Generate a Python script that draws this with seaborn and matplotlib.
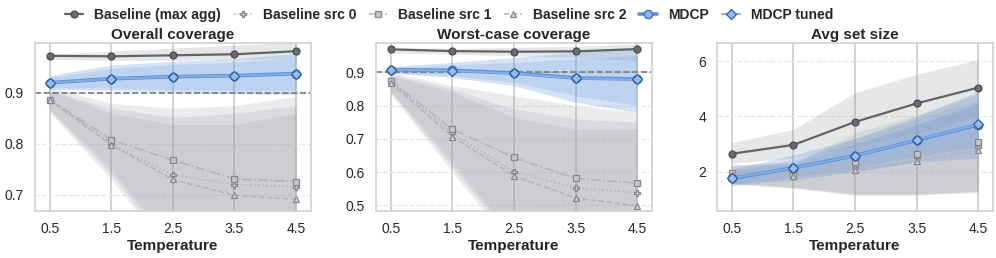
import numpy as np
import pandas as pd
import seaborn as sns
import matplotlib.pyplot as plt

temps = [0.5, 1.5, 2.5, 3.5, 4.5]
series_names = ["Baseline (max agg)", "Baseline src 0", "Baseline src 1",
                "Baseline src 2", "MDCP", "MDCP tuned"]

# Overall coverage
cov_max = [0.973, 0.972, 0.974, 0.976, 0.982]
cov_max_lo = [0.966, 0.964, 0.964, 0.966, 0.969]
cov_max_hi = [0.976, 0.982, 0.988, 0.994, 0.999]
cov_src0 = [0.887, 0.800, 0.739, 0.720, 0.716]
cov_src0_lo = [0.865, 0.740, 0.590, 0.550, 0.550]
cov_src0_hi = [0.905, 0.870, 0.852, 0.860, 0.875]
cov_src1 = [0.887, 0.808, 0.768, 0.731, 0.726]
cov_src1_lo = [0.868, 0.750, 0.600, 0.560, 0.560]
cov_src1_hi = [0.910, 0.880, 0.870, 0.875, 0.893]
cov_src2 = [0.887, 0.798, 0.730, 0.699, 0.691]
cov_src2_lo = [0.862, 0.730, 0.580, 0.530, 0.520]
cov_src2_hi = [0.905, 0.860, 0.838, 0.838, 0.860]
cov_mdcp = [0.920, 0.928, 0.932, 0.934, 0.938]
cov_mdcp_lo = [0.907, 0.905, 0.901, 0.899, 0.897]
cov_mdcp_hi = [0.934, 0.955, 0.962, 0.967, 0.978]
cov_tuned = [0.920, 0.928, 0.932, 0.934, 0.938]
cov_tuned_lo = [0.910, 0.910, 0.906, 0.905, 0.905]
cov_tuned_hi = [0.930, 0.948, 0.956, 0.960, 0.970]

# Worst-case coverage
wc_max = [0.969, 0.964, 0.962, 0.963, 0.970]
wc_max_lo = [0.958, 0.955, 0.950, 0.945, 0.935]
wc_max_hi = [0.975, 0.972, 0.975, 0.978, 0.985]
wc_src0 = [0.870, 0.717, 0.601, 0.553, 0.538]
wc_src0_lo = [0.840, 0.615, 0.390, 0.290, 0.280]
wc_src0_hi = [0.895, 0.850, 0.790, 0.760, 0.750]
wc_src1 = [0.874, 0.729, 0.644, 0.581, 0.567]
wc_src1_lo = [0.845, 0.630, 0.400, 0.300, 0.300]
wc_src1_hi = [0.900, 0.860, 0.830, 0.800, 0.780]
wc_src2 = [0.867, 0.707, 0.589, 0.522, 0.499]
wc_src2_lo = [0.835, 0.600, 0.370, 0.270, 0.250]
wc_src2_hi = [0.890, 0.840, 0.765, 0.730, 0.730]
wc_mdcp = [0.908, 0.906, 0.898, 0.883, 0.880]
wc_mdcp_lo = [0.897, 0.885, 0.860, 0.810, 0.780]
wc_mdcp_hi = [0.918, 0.930, 0.945, 0.960, 0.975]
wc_tuned = [0.908, 0.905, 0.897, 0.882, 0.879]
wc_tuned_lo = [0.900, 0.890, 0.870, 0.830, 0.800]
wc_tuned_hi = [0.915, 0.922, 0.930, 0.940, 0.950]

# Avg set size
sz_max = [2.65, 2.97, 3.80, 4.47, 5.04]
sz_max_lo = [2.30, 2.50, 2.90, 3.40, 4.00]
sz_max_hi = [3.05, 3.53, 4.86, 5.52, 6.06]
sz_src0 = [1.90, 1.85, 2.12, 2.55, 2.90]
sz_src0_lo = [1.55, 1.42, 1.18, 1.18, 1.30]
sz_src0_hi = [2.25, 2.35, 3.20, 3.90, 4.60]
sz_src1 = [1.94, 1.88, 2.34, 2.63, 3.06]
sz_src1_lo = [1.60, 1.45, 1.20, 1.20, 1.28]
sz_src1_hi = [2.25, 2.30, 3.40, 4.05, 4.80]
sz_src2 = [1.90, 1.84, 2.05, 2.39, 2.77]
sz_src2_lo = [1.58, 1.40, 1.15, 1.15, 1.25]
sz_src2_hi = [2.20, 2.25, 3.00, 3.70, 4.40]
sz_mdcp = [1.76, 2.14, 2.58, 3.14, 3.70]
sz_mdcp_lo = [1.50, 1.70, 2.00, 2.35, 2.50]
sz_mdcp_hi = [2.10, 2.60, 3.20, 4.00, 4.90]
sz_tuned = [1.77, 2.14, 2.58, 3.15, 3.71]
sz_tuned_lo = [1.55, 1.80, 2.15, 2.60, 2.90]
sz_tuned_hi = [2.00, 2.45, 3.00, 3.70, 4.50]

panels = [
    ("Overall coverage", (0.668, 0.998), [0.7, 0.8, 0.9], 0.9,
     [(cov_max, cov_max_lo, cov_max_hi), (cov_src0, cov_src0_lo, cov_src0_hi),
      (cov_src1, cov_src1_lo, cov_src1_hi), (cov_src2, cov_src2_lo, cov_src2_hi),
      (cov_mdcp, cov_mdcp_lo, cov_mdcp_hi), (cov_tuned, cov_tuned_lo, cov_tuned_hi)]),
    ("Worst-case coverage", (0.483, 0.988), [0.5, 0.6, 0.7, 0.8, 0.9], 0.9,
     [(wc_max, wc_max_lo, wc_max_hi), (wc_src0, wc_src0_lo, wc_src0_hi),
      (wc_src1, wc_src1_lo, wc_src1_hi), (wc_src2, wc_src2_lo, wc_src2_hi),
      (wc_mdcp, wc_mdcp_lo, wc_mdcp_hi), (wc_tuned, wc_tuned_lo, wc_tuned_hi)]),
    ("Avg set size", (0.58, 6.65), [2, 4, 6], None,
     [(sz_max, sz_max_lo, sz_max_hi), (sz_src0, sz_src0_lo, sz_src0_hi),
      (sz_src1, sz_src1_lo, sz_src1_hi), (sz_src2, sz_src2_lo, sz_src2_hi),
      (sz_mdcp, sz_mdcp_lo, sz_mdcp_hi), (sz_tuned, sz_tuned_lo, sz_tuned_hi)]),
]

styles = [
    dict(color="#626468", lw=1.6, marker="o", ms=5, mfc="#6a6c70", mec="#4a4c50", ls="-", band="#8f939a", alpha=0.22, z=4),
    dict(color="#b2b4b8", lw=1.1, marker="P", ms=4.8, mfc="#c4c6ca", mec="#85878b", ls=":", band="#9a9ea6", alpha=0.2, z=3),
    dict(color="#b2b4b8", lw=1.1, marker="s", ms=4.8, mfc="#c4c6ca", mec="#85878b", ls="-.", band="#9a9ea6", alpha=0.2, z=3),
    dict(color="#b2b4b8", lw=1.1, marker="^", ms=4.8, mfc="#d0d2d6", mec="#85878b", ls="--", band="#9a9ea6", alpha=0.2, z=3),
    dict(color="#5b8ed6", lw=2.6, marker="o", ms=6, mfc="#8ab4ea", mec="#3a6bb0", ls="-", band="#6f9fe0", alpha=0.3, z=5),
    dict(color="#86aee6", lw=1.4, marker="D", ms=5.5, mfc="#95bdf0", mec="#2f5f9f", ls="-", band="#6f9fe0", alpha=0.22, z=6),
]

sns.set_theme(style="whitegrid")
plt.rcParams["font.family"] = ["Liberation Sans", "DejaVu Sans"]

fig, axs = plt.subplots(1, 3, figsize=(9.96, 2.58), dpi=100)
plt.subplots_adjust(left=0.035, right=0.997, bottom=0.182, top=0.833, wspace=0.236)

for ax, (title, ylim, yticks, ref, data) in zip(axs, panels):
    for name, (vals, lo, hi), st in zip(series_names, data, styles):
        ax.fill_between(temps, lo, hi, color=st["band"], alpha=st["alpha"],
                        linewidth=0, zorder=1)
        sns.lineplot(x=temps, y=vals, ax=ax, color=st["color"], linewidth=st["lw"],
                     linestyle=st["ls"], marker=st["marker"], markersize=st["ms"],
                     markerfacecolor=st["mfc"], markeredgecolor=st["mec"],
                     markeredgewidth=0.9, label=name, zorder=st["z"])
    if ref is not None:
        ax.axhline(ref, color="#7a7a7a", linestyle="--", linewidth=1.2, zorder=2)
    ax.set_title(title, fontsize=11, fontweight="bold", pad=3)
    ax.set_xlabel("Temperature", fontsize=11, fontweight="bold", labelpad=2)
    ax.set_ylabel("")
    ax.set_xlim(0.26, 4.74)
    ax.set_ylim(*ylim)
    ax.set_xticks(temps)
    ax.set_xticklabels([str(t) for t in temps])
    ax.set_yticks(yticks)
    ax.tick_params(labelsize=10, pad=2)
    ax.grid(axis="x", color="#cfcfcf", linewidth=1.3, linestyle="-")
    ax.grid(axis="y", color="#e6e6e6", linewidth=0.9, linestyle="--")
    for sp in ax.spines.values():
        sp.set_edgecolor("#d4d4d4")
        sp.set_linewidth(1.3)
    handles, labels = ax.get_legend_handles_labels()
    ax.legend_.remove()

fig.legend(handles, labels, loc="center", bbox_to_anchor=(0.451, 0.942), ncol=6,
           frameon=False, prop={"weight": "bold", "size": 10}, handlelength=1.3,
           columnspacing=0.9, handletextpad=0.8, borderaxespad=0)

plt.savefig("out.png", dpi=100)
plt.close()
